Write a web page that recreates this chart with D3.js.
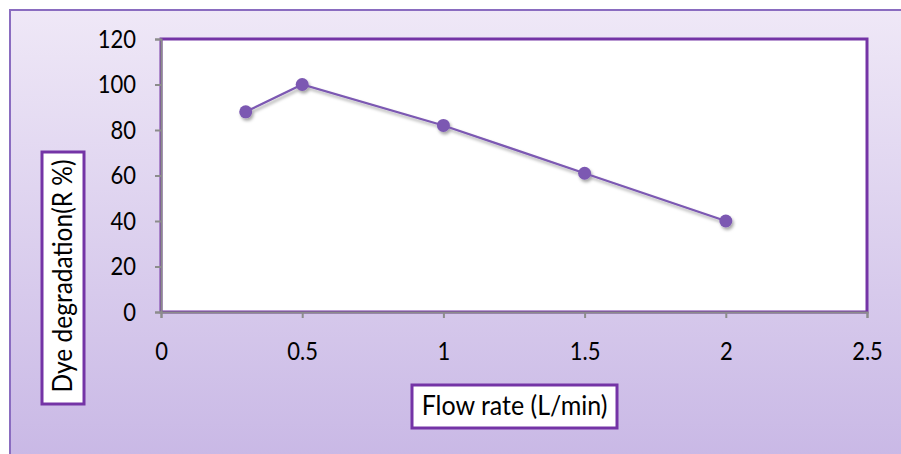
<!DOCTYPE html>
<html><head><meta charset="utf-8">
<script src="https://cdn.jsdelivr.net/npm/d3@7"></script>
<style>body{margin:0;padding:0;overflow:hidden;background:#fff}</style>
</head><body>
<svg id="c" width="901" height="454"></svg>
<script>
const flowRate = [0.3, 0.5, 1, 1.5, 2];
const degradation = [88, 100, 82, 61, 40];
const xTicks = [0, 0.5, 1, 1.5, 2, 2.5];
const xTickLabels = ["0", "0.5", "1", "1.5", "2", "2.5"];
const yTicks = [0, 20, 40, 60, 80, 100, 120];
const xTitle = "Flow rate (L/min)";
const yTitle = "Dye degradation(R %)";

const svg = d3.select("#c");
const defs = svg.append("defs");
const g = defs.append("linearGradient").attr("id","bg").attr("x1",0).attr("y1",0).attr("x2",0).attr("y2",1);
g.append("stop").attr("offset","0%").attr("stop-color","#efe8f7");
g.append("stop").attr("offset","100%").attr("stop-color","#c8b7e5");
const f = defs.append("filter").attr("id","sh").attr("x","-50%").attr("y","-50%").attr("width","200%").attr("height","200%");
f.append("feDropShadow").attr("dx",1.5).attr("dy",2.5).attr("stdDeviation",1.8).attr("flood-color","#000").attr("flood-opacity",0.35);

svg.append("rect").attr("x",10).attr("y",10).attr("width",900).attr("height",460)
  .attr("fill","url(#bg)").attr("stroke","#8a6cc0").attr("stroke-width",2);

const L=161, T=39, R=867, B=312;
const x = d3.scaleLinear().domain([0,2.5]).range([L,R]);
const y = d3.scaleLinear().domain([0,120]).range([B,T]);
const font = "Lato, 'Open Sans', sans-serif";
const k = 1.12;

svg.append("rect").attr("x",L).attr("y",T).attr("width",R-L).attr("height",B-T)
  .attr("fill","#fff").attr("stroke","#7434a6").attr("stroke-width",3);

const xa = svg.append("g").attr("transform",`translate(0,${B})`)
  .call(d3.axisBottom(x).tickValues(xTicks).tickFormat((d,i)=>xTickLabels[i]).tickSize(6));
const ya = svg.append("g").attr("transform",`translate(${L},0)`)
  .call(d3.axisLeft(y).tickValues(yTicks).tickSize(6));
[xa,ya].forEach(a=>{
  a.select(".domain").attr("stroke","#8c8c8c").attr("stroke-width",2);
  a.selectAll(".tick line").attr("stroke","#8c8c8c").attr("stroke-width",2);
  a.selectAll("text").attr("font-family",font).attr("font-size",22).attr("fill","#000")
    .attr("transform",`scale(1,${k})`).attr("dy","0.34em");
});
xa.selectAll("text").attr("y",40/k);
ya.selectAll("text").attr("x",-25).attr("y",0);

const pts = flowRate.map((v,i)=>[v,degradation[i]]);
const sg = svg.append("g").attr("filter","url(#sh)");
sg.append("path").datum(pts)
  .attr("d", d3.line().x(d=>x(d[0])).y(d=>y(d[1])))
  .attr("fill","none").attr("stroke","#7b58b2").attr("stroke-width",2.2);
sg.selectAll("circle").data(pts).join("circle")
  .attr("cx",d=>x(d[0])).attr("cy",d=>y(d[1])).attr("r",6.5).attr("fill","#7b58b2");

// y title box
svg.append("rect").attr("x",42).attr("y",152).attr("width",42).attr("height",252)
  .attr("fill","#fff").attr("stroke","#7434a6").attr("stroke-width",3);
svg.append("text").attr("transform",`translate(72,276) rotate(-90) scale(1,${1.07})`)
  .attr("text-anchor","middle").attr("font-family",font).attr("font-size",24.5).attr("fill","#000").text(yTitle);

// x title box
svg.append("rect").attr("x",412).attr("y",385).attr("width",205).attr("height",43)
  .attr("fill","#fff").attr("stroke","#7434a6").attr("stroke-width",3);
svg.append("text").attr("transform",`translate(514.5,415) scale(1,1.07)`)
  .attr("text-anchor","middle").attr("font-family",font).attr("font-size",25).attr("fill","#000").text(xTitle);
</script>
</body></html>
